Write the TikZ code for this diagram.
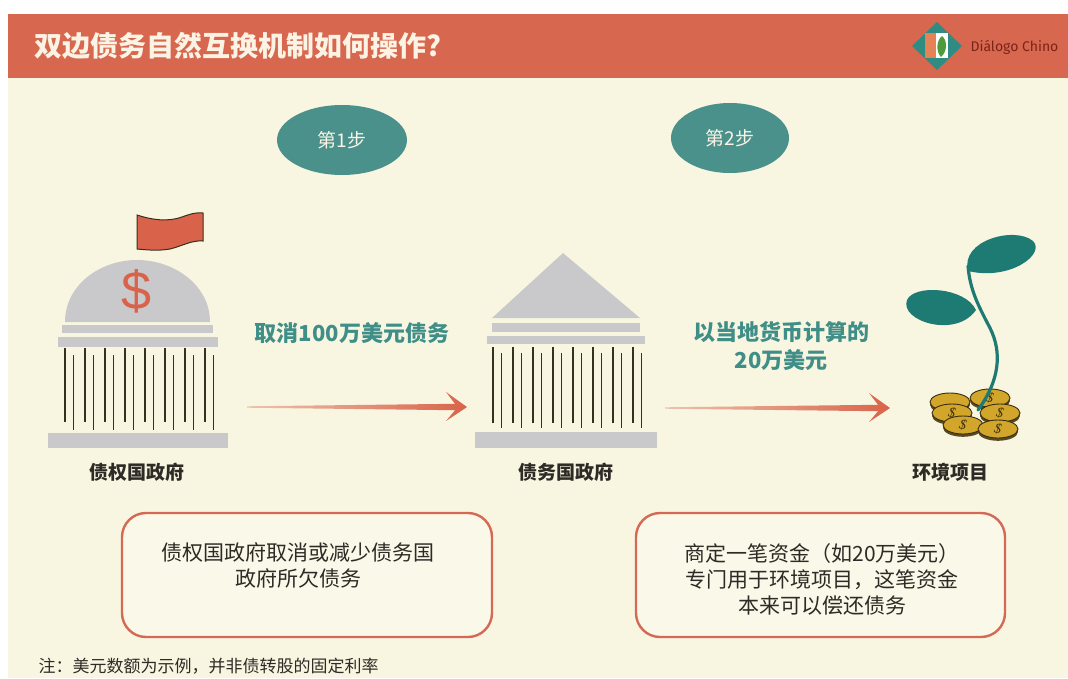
\documentclass[tikz,border=0pt]{standalone}
\usepackage{fontspec}
\setmainfont{Noto Sans CJK SC}
\newfontfamily\dollarfont{Liberation Sans}
\newfontfamily\coinfont{Liberation Serif}
\newfontfamily\logofont{Fira Sans}
\usetikzlibrary{calc,shapes.geometric}

\definecolor{bgcream}{HTML}{F8F6E1}
\definecolor{hdred}{HTML}{D8674F}
\definecolor{titlecol}{HTML}{FBF3E4}
\definecolor{stepteal}{HTML}{4A918C}
\definecolor{labelteal}{HTML}{3F8E88}
\definecolor{arrowred}{HTML}{D9634A}
\definecolor{bldgray}{HTML}{C9C9CB}
\definecolor{colline}{HTML}{35301F}
\definecolor{leafteal}{HTML}{1E7B73}
\definecolor{coingold}{HTML}{D2A52B}
\definecolor{coinline}{HTML}{3A2E10}
\definecolor{coinrim}{HTML}{5A4A22}
\definecolor{boxred}{HTML}{D46A55}
\definecolor{textdark}{HTML}{2E2A26}
\definecolor{logoteal}{HTML}{2E8C82}
\definecolor{logored}{HTML}{7A2418}
\definecolor{logoorange}{HTML}{E58256}
\definecolor{logogreen}{HTML}{4F9A3A}

\tikzset{
  stepoval/.style={ellipse, fill=stepteal, text=titlecol, inner sep=0pt,
    minimum width=130pt, minimum height=70pt, font=\fontsize{19}{19}\selectfont},
  lbl/.style={text=textdark, font=\fontsize{19}{19}\selectfont\bfseries},
  flowlbl/.style={text=labelteal, align=center, font=\fontsize{22}{28}\selectfont\bfseries},
  notebox/.style={draw=boxred, line width=2.4pt, rounded corners=24pt, fill=bgcream!75!white},
  boxtext/.style={text=textdark, align=center, font=\fontsize{21}{26}\selectfont},
  pillar/.style={draw=colline, line width=1.5pt},
  coinsign/.style={text=coinline, inner sep=0pt, rotate=-12,
    font=\coinfont\itshape\fontsize{14}{14}\selectfont},
}

% one coin of the pile: dark rim and gold face
\newcommand\coinface[2]{%
  \fill[coinrim] (#1,#2+2.8) ellipse[x radius=20pt, y radius=9pt];
  \filldraw[fill=coingold, draw=coinline, line width=0.9pt]
    (#1,#2) ellipse[x radius=20pt, y radius=9pt];}
% a coin with its dollar sign
\newcommand\drawcoin[3]{%
  \coinface{#1}{#2}
  \node[coinsign] (#3) at (#1,#2) {\$};}

% tapering red arrow between two named points
\newcommand\fatarrow[2]{%
  \shade[left color=arrowred!35!bgcream, right color=arrowred]
    ($(#1)+(0,-0.7)$) -- ($(#2)+(-12,-3.2)$) -- ($(#2)+(-21,-15)$) -- (#2)
    -- ($(#2)+(-21,14)$) -- ($(#2)+(-12,3.2)$) -- ($(#1)+(0,0.7)$) -- cycle;}

\begin{document}
\begin{tikzpicture}[x=1pt,y=-1pt]
\useasboundingbox (0,0) rectangle (1068,678);
\fill[white] (0,0) rectangle (1068,678);
\fill[bgcream] (8,14) rectangle (1068,678);

% header bar
\fill[hdred] (8,14) rectangle (1068,78);
\node[anchor=west, text=titlecol, font=\fontsize{28}{28}\selectfont\bfseries]
  (title) at (31,46) {双边债务自然互换机制如何操作?};

% logo
\fill[logoteal] (937,22) -- (962,46) -- (937,70) -- (912,46) -- cycle;
\fill[logoorange] (925,33) rectangle (936,58);
\fill[white] (936,33) rectangle (948,58);
\fill[logogreen] (942,36) .. controls (948,41) and (947,52) .. (941,57)
  .. controls (936,52) and (936,41) .. (942,36) -- cycle;
\node[anchor=west, text=logored, font=\logofont\fontsize{14}{14}\selectfont]
  (logotxt) at (967,47) {Diálogo Chino};

% step ovals
\node[stepoval] (step1) at (342,140) {第1步};
\node[stepoval, minimum width=118pt] (step2) at (730,138) {第2步};

% creditor government: domed building with flag
\filldraw[fill=arrowred, draw=colline, line width=1pt]
  (137,215) .. controls (152,220) and (168,222) .. (182,217)
  .. controls (190,214) and (197,212) .. (203,213) -- (203,241)
  .. controls (192,240) and (182,246) .. (170,249)
  .. controls (158,251) and (148,250) .. (137,249) -- cycle;
\fill[bldgray] (65,322) .. controls (65,285) and (100,260) .. (137,260)
  .. controls (174,260) and (210,285) .. (210,322) -- cycle;
\node[text=arrowred, inner sep=0pt, font=\dollarfont\fontsize{54}{54}\selectfont]
  (dollar) at (137,291) {\$};
\fill[bldgray] (62,325) rectangle (213,333);
\fill[bldgray] (58,337) rectangle (218,347);
\foreach \k in {0,...,7} {
  \draw[pillar] (65+20*\k,348) -- (65+20*\k,422);
  \draw[pillar] (73.3+20*\k,355) -- (73.3+20*\k,430);
}
\fill[bldgray] (48,433) rectangle (228,448);
\node[lbl] (cred) at (137,472) {债权国政府};

% debtor government: temple building
\fill[bldgray] (563,253) -- (640,318) -- (492,318) -- cycle;
\fill[bldgray] (492,323) rectangle (640,332);
\fill[bldgray] (487,336) rectangle (645,344);
\foreach \k in {0,...,7} {
  \draw[pillar] (493+20*\k,347) -- (493+20*\k,423);
  \draw[pillar] (501.5+20*\k,353) -- (501.5+20*\k,428);
}
\fill[bldgray] (475,432) rectangle (657,448);
\node[lbl] (debt) at (566,472) {债务国政府};

% environmental project: seedling on a pile of coins
\fill[leafteal] (968,271) .. controls (960,240) and (1015,226) .. (1033,241)
  .. controls (1046,254) and (1010,281) .. (968,271) -- cycle;
\fill[leafteal] (976,310) .. controls (965,287) and (914,284) .. (907,300)
  .. controls (899,321) and (956,339) .. (976,310) -- cycle;
\coinface{950}{402}
\drawcoin{990}{398}{coinB}
\draw[leafteal, line width=3.2pt, line cap=round]
  (968,266) .. controls (970,290) and (978,305) .. (990,328)
  .. controls (1002,352) and (1000,380) .. (978,410);
\drawcoin{952}{413}{coinC}
\drawcoin{1000}{413}{coinD}
\drawcoin{963}{425}{coinE}
\drawcoin{998}{429}{coinF}
\node[lbl] (env) at (950,472) {环境项目};

% flow arrows and their captions
\coordinate (a1s) at (247,407);
\coordinate (a1e) at (467,407);
\coordinate (a2s) at (665,408);
\coordinate (a2e) at (890,408);
\fatarrow{a1s}{a1e}
\fatarrow{a2s}{a2e}
\node[flowlbl] (cap1) at (352,333) {取消100万美元债务};
\node[flowlbl] (cap2) at (781,346) {以当地货币计算的\\20万美元};

% explanation boxes
\node[notebox, minimum width=370pt, minimum height=124pt] (box1) at (307,575) {};
\node[notebox, minimum width=369pt, minimum height=124pt] (box2) at (820.5,575) {};
\node[boxtext] (txt1) at (298,565) {债权国政府取消或减少债务国\\政府所欠债务};
\node[boxtext] (txt2) at (822,579) {商定一笔资金（如20万美元）\\专门用于环境项目，这笔资金\\本来可以偿还债务};

% footnote
\node[anchor=west, text=textdark, font=\fontsize{17}{17}\selectfont]
  (note) at (35,666) {注：美元数额为示例，并非债转股的固定利率};
\end{tikzpicture}
\end{document}
